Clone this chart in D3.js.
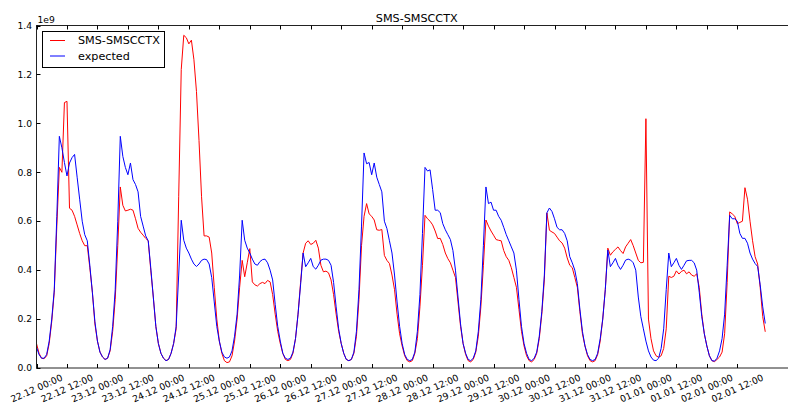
<!DOCTYPE html>
<html>
<head>
<meta charset="utf-8">
<script src="https://cdn.jsdelivr.net/npm/d3@7"></script>
<style>
  body { margin: 0; background: #fff; }
  text { font-family: "DejaVu Sans", sans-serif; fill: #000; }
</style>
</head>
<body>
<svg id="chart" width="788" height="405"></svg>
<script>
// hourly samples, first one at 22.12 00:00, values in units of 1e9
const startTime = Date.UTC(2014, 11, 22, 0, 0);
const seriesNames = ["SMS-SMSCCTX", "expected"];

const actual = [
  // 22.12
  0.10, 0.06, 0.04, 0.038, 0.05, 0.10, 0.19, 0.31, 0.58, 0.82, 0.80, 1.085, 1.09, 0.653, 0.645, 0.62, 0.585, 0.55, 0.52, 0.50, 0.50, 0.41, 0.31, 0.18,
  // 23.12
  0.11, 0.065, 0.045, 0.035, 0.04, 0.07, 0.15, 0.28, 0.50, 0.74, 0.665, 0.642, 0.645, 0.649, 0.645, 0.61, 0.571, 0.555, 0.543, 0.53, 0.52, 0.40, 0.29, 0.17,
  // 24.12
  0.10, 0.06, 0.04, 0.03, 0.035, 0.06, 0.10, 0.16, 0.70, 1.22, 1.36, 1.35, 1.325, 1.34, 1.26, 1.13, 0.93, 0.70, 0.54, 0.54, 0.535, 0.47, 0.33, 0.20,
  // 25.12
  0.11, 0.06, 0.03, 0.022, 0.025, 0.05, 0.11, 0.20, 0.33, 0.44, 0.373, 0.43, 0.488, 0.352, 0.34, 0.335, 0.345, 0.35, 0.345, 0.358, 0.352, 0.30, 0.22, 0.15,
  // 26.12
  0.10, 0.06, 0.035, 0.03, 0.035, 0.06, 0.12, 0.22, 0.35, 0.47, 0.51, 0.52, 0.505, 0.51, 0.522, 0.49, 0.42, 0.393, 0.396, 0.389, 0.36, 0.30, 0.22, 0.15,
  // 27.12
  0.10, 0.06, 0.035, 0.03, 0.035, 0.06, 0.13, 0.28, 0.50, 0.62, 0.672, 0.63, 0.62, 0.605, 0.565, 0.563, 0.566, 0.46, 0.44, 0.427, 0.38, 0.32, 0.22, 0.14,
  // 28.12
  0.09, 0.05, 0.03, 0.025, 0.03, 0.06, 0.12, 0.25, 0.42, 0.624, 0.61, 0.60, 0.585, 0.56, 0.529, 0.53, 0.505, 0.47, 0.447, 0.43, 0.40, 0.37, 0.27, 0.17,
  // 29.12
  0.10, 0.055, 0.03, 0.025, 0.035, 0.065, 0.13, 0.25, 0.42, 0.605, 0.58, 0.56, 0.543, 0.525, 0.522, 0.52, 0.48, 0.455, 0.44, 0.41, 0.37, 0.33, 0.24, 0.15,
  // 30.12
  0.09, 0.05, 0.03, 0.025, 0.035, 0.06, 0.12, 0.22, 0.36, 0.634, 0.563, 0.556, 0.55, 0.535, 0.52, 0.511, 0.49, 0.45, 0.42, 0.41, 0.37, 0.33, 0.23, 0.14,
  // 31.12
  0.09, 0.05, 0.03, 0.025, 0.03, 0.055, 0.11, 0.20, 0.32, 0.49, 0.461, 0.475, 0.485, 0.495, 0.48, 0.468, 0.495, 0.51, 0.525, 0.50, 0.47, 0.44, 0.43, 0.432,
  // 01.01
  1.019, 0.20, 0.12, 0.07, 0.05, 0.044, 0.05, 0.08, 0.16, 0.375, 0.37, 0.375, 0.397, 0.384, 0.395, 0.40, 0.385, 0.393, 0.38, 0.375, 0.385, 0.33, 0.22, 0.14,
  // 02.01
  0.09, 0.05, 0.03, 0.026, 0.035, 0.045, 0.065, 0.14, 0.35, 0.638, 0.63, 0.62, 0.59, 0.595, 0.60, 0.737, 0.69, 0.60, 0.52, 0.455, 0.425, 0.33, 0.21, 0.148
];

const expected = [
  // 22.12
  0.085, 0.055, 0.04, 0.04, 0.055, 0.11, 0.20, 0.32, 0.62, 0.947, 0.90, 0.84, 0.785, 0.838, 0.86, 0.873, 0.78, 0.69, 0.60, 0.545, 0.52, 0.42, 0.31, 0.19,
  // 23.12
  0.11, 0.065, 0.045, 0.035, 0.04, 0.075, 0.17, 0.32, 0.60, 0.947, 0.865, 0.82, 0.79, 0.838, 0.77, 0.75, 0.72, 0.62, 0.58, 0.54, 0.52, 0.41, 0.29, 0.17,
  // 24.12
  0.10, 0.06, 0.04, 0.03, 0.035, 0.06, 0.10, 0.17, 0.38, 0.604, 0.522, 0.49, 0.47, 0.445, 0.425, 0.415, 0.425, 0.44, 0.445, 0.443, 0.425, 0.37, 0.27, 0.17,
  // 25.12
  0.11, 0.065, 0.045, 0.04, 0.045, 0.07, 0.13, 0.22, 0.38, 0.604, 0.522, 0.49, 0.47, 0.445, 0.425, 0.42, 0.435, 0.443, 0.445, 0.43, 0.40, 0.36, 0.26, 0.17,
  // 26.12
  0.11, 0.06, 0.04, 0.035, 0.04, 0.065, 0.12, 0.22, 0.34, 0.47, 0.414, 0.43, 0.448, 0.414, 0.404, 0.42, 0.441, 0.445, 0.445, 0.44, 0.42, 0.35, 0.25, 0.16,
  // 27.12
  0.10, 0.06, 0.035, 0.03, 0.035, 0.065, 0.15, 0.32, 0.58, 0.879, 0.835, 0.84, 0.79, 0.838, 0.78, 0.75, 0.72, 0.60, 0.57, 0.52, 0.47, 0.38, 0.27, 0.17,
  // 28.12
  0.10, 0.055, 0.035, 0.03, 0.035, 0.065, 0.15, 0.30, 0.55, 0.82, 0.805, 0.81, 0.73, 0.645, 0.645, 0.635, 0.59, 0.565, 0.545, 0.525, 0.48, 0.40, 0.29, 0.18,
  // 29.12
  0.10, 0.06, 0.035, 0.03, 0.04, 0.07, 0.15, 0.28, 0.50, 0.74, 0.672, 0.678, 0.645, 0.645, 0.62, 0.604, 0.575, 0.545, 0.52, 0.495, 0.47, 0.40, 0.28, 0.17,
  // 30.12
  0.10, 0.06, 0.035, 0.03, 0.04, 0.065, 0.13, 0.23, 0.38, 0.634, 0.654, 0.64, 0.61, 0.575, 0.565, 0.565, 0.55, 0.52, 0.455, 0.43, 0.40, 0.345, 0.24, 0.15,
  // 31.12
  0.09, 0.055, 0.035, 0.03, 0.035, 0.06, 0.12, 0.20, 0.32, 0.482, 0.414, 0.43, 0.448, 0.42, 0.403, 0.42, 0.441, 0.445, 0.441, 0.43, 0.40, 0.29, 0.21, 0.16,
  // 01.01
  0.11, 0.07, 0.045, 0.032, 0.03, 0.04, 0.08, 0.16, 0.32, 0.47, 0.414, 0.43, 0.448, 0.42, 0.403, 0.42, 0.438, 0.44, 0.44, 0.43, 0.40, 0.31, 0.21, 0.14,
  // 02.01
  0.09, 0.05, 0.03, 0.028, 0.04, 0.07, 0.12, 0.22, 0.42, 0.624, 0.61, 0.61, 0.60, 0.55, 0.53, 0.53, 0.51, 0.47, 0.445, 0.427, 0.415, 0.34, 0.25, 0.182
];

const yTicks = [0.0, 0.2, 0.4, 0.6, 0.8, 1.0, 1.2, 1.4];

const svg = d3.select("#chart");
const plotLeft = 36.5, plotRight = 797, plotTop = 25.5, plotBottom = 368;
const tickFont = 9.2, titleFont = 11.2;
const hour = 3600 * 1000;

const toPoints = (values) => values.map((v, i) => ({ t: new Date(startTime + i * hour), v: v }));
const series = [
  { name: seriesNames[0], color: "#ff0000", points: toPoints(actual) },
  { name: seriesNames[1], color: "#0000ff", points: toPoints(expected) }
];

const x = d3.scaleUtc()
  .domain([new Date(startTime), new Date(startTime + 299.5 * hour)])
  .range([plotLeft, plotRight]);
const y = d3.scaleLinear().domain([0, 1.4]).range([plotBottom, plotTop]);

svg.append("clipPath").attr("id", "plot-clip")
  .append("rect")
  .attr("x", plotLeft).attr("y", plotTop)
  .attr("width", plotRight - plotLeft).attr("height", plotBottom - plotTop);

const line = d3.line().x(d => x(d.t)).y(d => y(d.v));

svg.append("g").attr("clip-path", "url(#plot-clip)")
  .selectAll("path")
  .data(series)
  .join("path")
  .attr("d", d => line(d.points))
  .attr("fill", "none")
  .attr("stroke", d => d.color)
  .attr("stroke-width", 1)
  .attr("stroke-linejoin", "round");

// frame
svg.append("rect")
  .attr("x", plotLeft).attr("y", plotTop)
  .attr("width", plotRight - plotLeft).attr("height", plotBottom - plotTop)
  .attr("fill", "none").attr("stroke", "#222").attr("stroke-width", 1);

// x ticks every 12 hours over the data range
const lastTime = startTime + (actual.length - 1) * hour;
const xTicks = d3.utcHour.every(12).range(new Date(startTime), new Date(lastTime + 1));
const fmt = d3.utcFormat("%d.%m %H:%M");
const angle = 24 * Math.PI / 180;

xTicks.forEach(function (t) {
  let px = Math.round(x(t)) + 0.5;
  svg.append("line").attr("x1", px).attr("x2", px).attr("y1", plotBottom).attr("y2", plotBottom - 4).attr("stroke", "#000");
  svg.append("line").attr("x1", px).attr("x2", px).attr("y1", plotTop).attr("y2", plotTop + 4).attr("stroke", "#000");
  let label = svg.append("text")
    .attr("text-anchor", "middle")
    .attr("dy", "0.35em")
    .style("font-size", tickFont + "px")
    .text(fmt(t));
  // rotated box is centred on the tick, its top just under the axis
  let w = label.node().getComputedTextLength();
  let boxH = w * Math.sin(angle) + tickFont * 0.95 * Math.cos(angle);
  label.attr("transform", "translate(" + x(t) + "," + (plotBottom + 5 + boxH / 2) + ") rotate(-24)");
});

// y ticks
yTicks.forEach(function (v) {
  let py = Math.round(y(v)) + 0.5;
  svg.append("line").attr("x1", plotLeft).attr("x2", plotLeft + 4).attr("y1", py).attr("y2", py).attr("stroke", "#000");
  svg.append("line").attr("x1", plotRight).attr("x2", plotRight - 4).attr("y1", py).attr("y2", py).attr("stroke", "#000");
  svg.append("text")
    .attr("x", plotLeft - 4.5)
    .attr("y", y(v))
    .attr("dy", "0.35em")
    .attr("text-anchor", "end")
    .style("font-size", tickFont + "px")
    .text(d3.format(".1f")(v));
});

// offset label and title
svg.append("text").attr("x", plotLeft + 1).attr("y", 22.5).style("font-size", tickFont + "px").text("1e9");
svg.append("text").attr("x", (plotLeft + plotRight) / 2).attr("y", 21.5)
  .attr("text-anchor", "middle").style("font-size", titleFont + "px").text("SMS-SMSCCTX");

// legend
const legend = svg.append("g");
legend.append("rect")
  .attr("x", 42.5).attr("y", 31.5).attr("width", 122).attr("height", 36)
  .attr("fill", "#fff").attr("stroke", "#000").attr("stroke-width", 1);
series.forEach(function (s, i) {
  let ly = 40.5 + i * 15.5;
  legend.append("line").attr("x1", 50).attr("x2", 65).attr("y1", ly).attr("y2", ly).attr("stroke", s.color);
  legend.append("text").attr("x", 78).attr("y", ly).attr("dy", "0.35em")
    .style("font-size", titleFont + "px").text(s.name);
});
</script>
</body>
</html>
